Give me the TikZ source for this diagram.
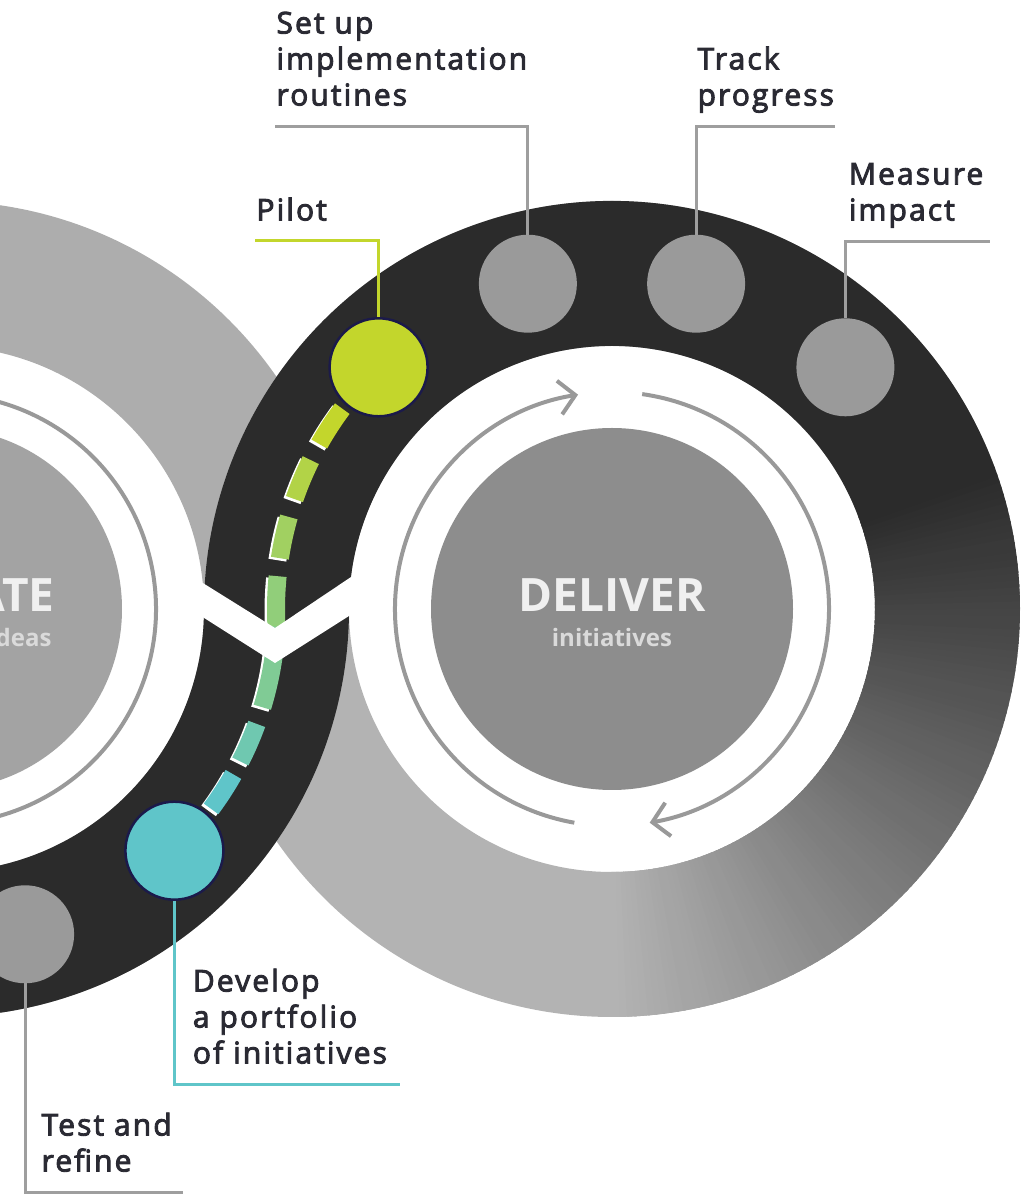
\documentclass[tikz,border=0pt]{standalone}
\usepackage{fontspec}
\setmainfont{Open Sans}
\newfontfamily\lblfont[LetterSpace=7,FakeBold=3]{Open Sans}
\usetikzlibrary{positioning,calc,arrows.meta}
\definecolor{ringdark}{HTML}{2B2B2B}
\definecolor{ringgray}{HTML}{ADADAD}
\definecolor{ringlight}{HTML}{B3B3B3}
\definecolor{discgray}{HTML}{8D8D8D}
\definecolor{discpale}{HTML}{A3A3A3}
\definecolor{arrowgray}{HTML}{999999}
\definecolor{dotgray}{HTML}{9A9A9A}
\definecolor{leadgray}{HTML}{9E9E9E}
\definecolor{pilotlime}{HTML}{C3D62C}
\definecolor{developteal}{HTML}{5FC5C9}
\definecolor{navyline}{HTML}{1B1A4A}
\definecolor{lbltext}{HTML}{2A2A33}
\definecolor{titletext}{HTML}{F0F0F0}
\definecolor{subtext}{HTML}{DADADA}

\begin{document}
\begin{tikzpicture}[x=1pt, y=1pt,
    ringband/.style={line width=145pt},
    milestone/.style={circle, minimum size=98pt, inner sep=0pt, fill=dotgray},
    keystone/.style={milestone, draw=navyline, line width=2.5pt},
    leader/.style={line width=3pt, leadgray},
    lbl/.style={inner sep=0pt, align=left, text depth=0pt, text=lbltext, font=\lblfont\fontsize{30}{36}\selectfont},
    cyclearrow/.style={line width=4pt, arrowgray, -{Straight Barb[length=16pt,width=34pt]}},
    dashedge/.style={line width=18pt, white},
    dashfill/.style={line width=18pt}]
    \useasboundingbox (0,0) rectangle (1024,1195);
    \clip (0,0) rectangle (1024,1195);
    \coordinate (ideas) at (-59,586);
    \coordinate (deliver) at (612,586);

    \draw[ringband, ringgray] (ideas) circle[radius=335.5];
    \draw[ringband, ringlight] (deliver) circle[radius=335.5];
    \draw[ringband, ringdark] ([shift={(20:335.5)}]deliver) arc[start angle=20, end angle=180, radius=335.5];
    \foreach \a in {-90,-89,...,19} {
        \pgfmathtruncatemacro\f{(20-\a)*100/110}
        \draw[ringband, ringlight!\f!ringdark] ([shift={(\a:335.5)}]deliver) arc[start angle=\a, delta angle=1.5, radius=335.5];
    }
    \draw[ringband, ringdark] ([shift={(0:335.5)}]ideas) arc[start angle=0, end angle=-180, radius=335.5];

    \fill[discgray] (deliver) circle[radius=181];
    \fill[discpale] (ideas) circle[radius=181];
    \draw[cyclearrow] ([shift={(260:217)}]deliver) arc[start angle=260, end angle=99, radius=217];
    \draw[cyclearrow] ([shift={(82:217)}]deliver) arc[start angle=82, end angle=-80, radius=217];
    \draw[line width=4pt, arrowgray] ([shift={(-80:215)}]ideas) arc[start angle=-80, end angle=80, radius=215];

    \node[anchor=base, text=titletext, font=\bfseries\fontsize{46}{46}\selectfont] (delivertitle) at ([yshift=-3pt]deliver) {DELIVER};
    \node[anchor=base, text=subtext, font=\bfseries\fontsize{24}{24}\selectfont] (delivertext) at ([yshift=-38pt]deliver) {initiatives};
    \node[anchor=base east, text=titletext, font=\bfseries\fontsize{46}{46}\selectfont] (ideastitle) at (58,583) {ATE};
    \node[anchor=base east, text=subtext, font=\bfseries\fontsize{24}{24}\selectfont] (ideastext) at (55,548) {ideas};

    \foreach \s/\e/\k in {143.4/150.6/0, 153.7/160.9/1, 164.1/171.3/2, 174.4/186/3} {
        \pgfmathtruncatemacro\p{100-\k*100/6}
        \draw[dashedge] ([shift={(\s:336)}]deliver) ++(-2.5,-2) arc[start angle=\s, end angle=\e, radius=336];
        \draw[dashfill, pilotlime!\p!developteal] ([shift={(\s:336)}]deliver) arc[start angle=\s, end angle=\e, radius=336];
    }
    \foreach \s/\e/\k in {-3/-17/4, -20/-27/5, -29.5/-36.5/6} {
        \pgfmathtruncatemacro\p{100-\k*100/6}
        \draw[dashedge] ([shift={(\s:336)}]ideas) ++(-2.5,-2) arc[start angle=\s, end angle=\e, radius=336];
        \draw[dashfill, pilotlime!\p!developteal] ([shift={(\s:336)}]ideas) arc[start angle=\s, end angle=\e, radius=336];
    }
    \fill[white] (190,620) -- (275,567) -- (360,624) -- (360,586) -- (275,532) -- (190,586) -- cycle;

    \node[keystone, fill=pilotlime] (pilot) at ([shift={(134:336)}]deliver) {};
    \node[milestone] (setup) at ([shift={(104.5:336)}]deliver) {};
    \node[milestone] (track) at ([shift={(75.5:336)}]deliver) {};
    \node[milestone] (measure) at ([shift={(46:336)}]deliver) {};
    \node[keystone, fill=developteal] (develop) at ([shift={(-46:336)}]ideas) {};
    \node[milestone] (test) at ([shift={(-75.5:336)}]ideas) {};

    \coordinate (pilotend) at (255,954);
    \coordinate (setupend) at (275,1068);
    \coordinate (trackend) at (835,1068);
    \coordinate (measureend) at (990,953);
    \coordinate (developend) at (400,110);
    \coordinate (testend) at (183,2);

    \draw[leader, pilotlime] (pilot.north) |- (pilotend) node[lbl, anchor=south west, yshift=19pt] {Pilot};
    \draw[leader] (setup.north) |- (setupend) node[lbl, anchor=south west, yshift=20pt] {Set up\\implementation\\routines};
    \draw[leader] (track.north) |- (trackend) node[lbl, pos=.5, anchor=south west, yshift=20pt] {Track\\progress};
    \draw[leader] (measure.north) |- (measureend) node[lbl, pos=.5, anchor=south west, xshift=2pt, yshift=20pt] {Measure\\impact};
    \draw[leader, developteal] (develop.south) |- (developend) node[lbl, pos=.5, anchor=south west, xshift=17pt, yshift=20pt] {Develop\\a portfolio\\of initiatives};
    \draw[leader] (test.south) |- (testend) node[lbl, pos=.5, anchor=south west, xshift=15pt, yshift=20pt] {Test and\\refine};
\end{tikzpicture}
\end{document}
